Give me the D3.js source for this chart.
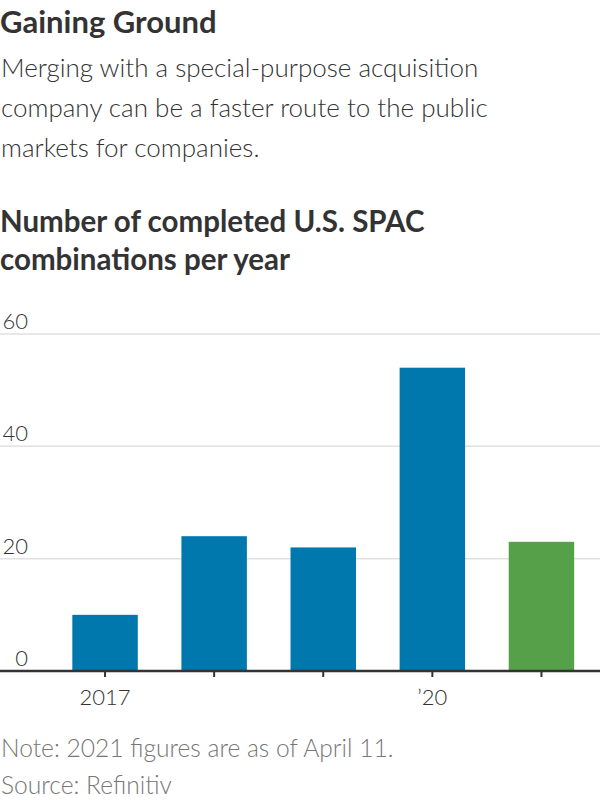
<!DOCTYPE html>
<html>
<head>
<meta charset="utf-8">
<script src="https://cdn.jsdelivr.net/npm/d3@7"></script>
<style>
  body { margin: 0; background: #fff; }
  svg { display: block; }
  text { font-family: Lato, "Noto Sans", sans-serif; }
</style>
</head>
<body>
<svg id="chart" width="600" height="800"></svg>
<script>
const years = ["2017", "2018", "2019", "2020", "2021"];
const counts = [10, 24, 22, 54, 23];
const barColors = ["#0077ad", "#0077ad", "#0077ad", "#0077ad", "#55a048"];
const xTickLabels = ["2017", "", "", "\u201920", ""];
const yTicks = [0, 20, 40, 60];
const titleText = "Gaining Ground";
const subtitleLines = ["Merging with a special-purpose acquisition", "company can be a faster route to the public", "markets for companies."];
const headingLines = ["Number of completed U.S. SPAC", "combinations per year"];
const noteLines = ["Note: 2021 figures are as of April 11.", "Source: Refinitiv"];

const svg = d3.select("#chart");

svg.append("text").attr("x", 0).attr("y", 33)
  .attr("font-size", 31).attr("font-weight", 700).attr("fill", "#333")
  .text(titleText);

svg.selectAll("text.sub").data(subtitleLines).join("text").attr("class", "sub")
  .attr("x", 1).attr("y", (d, i) => 77 + i * 40)
  .attr("font-size", 26).attr("font-weight", 300).attr("fill", "#333")
  .text(d => d);

svg.selectAll("text.head").data(headingLines).join("text").attr("class", "head")
  .attr("x", 0).attr("y", (d, i) => 232 + i * 38)
  .attr("font-size", 29.5).attr("font-weight", 700).attr("fill", "#333")
  .text(d => d);

const x = d3.scaleBand().domain(years).range([50.5, 596]).paddingInner(0.4).paddingOuter(0.2);
const y = d3.scaleLinear().domain([0, 60]).range([671, 334]);

// gridlines
svg.append("g").selectAll("line").data(yTicks.filter(d => d > 0)).join("line")
  .attr("x1", 0).attr("x2", 600)
  .attr("y1", d => y(d)).attr("y2", d => y(d))
  .attr("stroke", "#e1e1e1").attr("stroke-width", 1.5);

// y labels
svg.append("g").selectAll("text").data(yTicks).join("text")
  .attr("x", 28).attr("y", d => y(d) - 5)
  .attr("text-anchor", "end").attr("font-size", 22).attr("font-weight", 300).attr("fill", "#333")
  .text(d => d);

// bars
svg.append("g").selectAll("rect").data(years).join("rect")
  .attr("x", d => x(d)).attr("width", x.bandwidth())
  .attr("y", (d, i) => y(counts[i])).attr("height", (d, i) => y(0) - y(counts[i]))
  .attr("fill", (d, i) => barColors[i]);

// x axis
const xAxis = d3.axisBottom(x).tickSize(6).tickPadding(12)
  .tickFormat((d, i) => xTickLabels[i]);
const gx = svg.append("g").attr("transform", `translate(0,${y(0)})`).call(xAxis);
gx.select(".domain").remove();
gx.selectAll(".tick line").attr("stroke", "#333").attr("stroke-width", 2);
gx.selectAll(".tick text").attr("font-size", 22).attr("font-weight", 300).attr("fill", "#333")
  .attr("font-family", "Lato, 'Noto Sans', sans-serif");
svg.append("line").attr("x1", 0).attr("x2", 600).attr("y1", y(0)).attr("y2", y(0))
  .attr("stroke", "#333").attr("stroke-width", 2.5);

svg.selectAll("text.note").data(noteLines).join("text").attr("class", "note")
  .attr("x", 1).attr("y", (d, i) => 757 + i * 37)
  .attr("font-size", 24.6).attr("font-weight", 300).attr("fill", "#777")
  .text(d => d);
</script>
</body>
</html>
